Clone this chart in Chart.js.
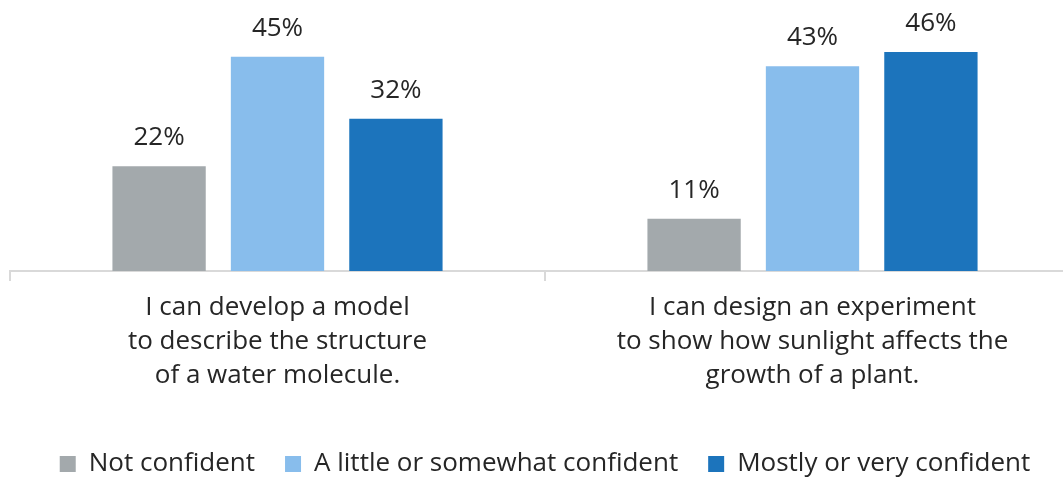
<!DOCTYPE html>
<html>
<head>
<meta charset="utf-8">
<script src="https://cdn.jsdelivr.net/npm/chart.js@4"></script>
<style>
  html, body { margin: 0; padding: 0; background: #fff; overflow: hidden; }
  #wrap { width: 1080px; height: 479px; }
</style>
</head>
<body>
<div id="wrap"><canvas id="c"></canvas></div>
<script>
const categories = [
    ['I can develop a model', 'to describe the structure', 'of a water molecule.'],
    ['I can design an experiment', 'to show how sunlight affects the', 'growth of a plant.']
];
const seriesNames = ['Not confident', 'A little or somewhat confident', 'Mostly or very confident'];
const notConfident = [22, 11];
const somewhatConfident = [45, 43];
const veryConfident = [32, 46];
const colors = ['#a3a9ac', '#88bdec', '#1c74bc'];

const FONT = '"Open Sans", sans-serif';
const TXT = '#262626';

// etiquetas de valor acima das barras
const valueLabels = {
    id: 'valueLabels',
    afterDatasetsDraw(chart) {
        const ctx = chart.ctx;
        ctx.save();
        ctx.font = '26px ' + FONT;
        ctx.fillStyle = TXT;
        ctx.textAlign = 'center';
        ctx.textBaseline = 'alphabetic';
        chart.data.datasets.forEach((ds, i) => {
            chart.getDatasetMeta(i).data.forEach((bar, j) => {
                ctx.fillText(ds.data[j] + '%', bar.x, bar.y - 21);
            });
        });
        ctx.restore();
    }
};

new Chart(document.getElementById('c'), {
    type: 'bar',
    data: {
        labels: categories,
        datasets: [
            { label: seriesNames[0], data: notConfident, backgroundColor: colors[0] },
            { label: seriesNames[1], data: somewhatConfident, backgroundColor: colors[1] },
            { label: seriesNames[2], data: veryConfident, backgroundColor: colors[2] }
        ]
    },
    options: {
        responsive: true,
        maintainAspectRatio: false,
        animation: false,
        datasets: { bar: { categoryPercentage: 0.664, barPercentage: 0.788 } },
        layout: { padding: { top: 33, left: 10, right: 0, bottom: -8 } },
        scales: {
            x: {
                grid: { drawOnChartArea: false, drawTicks: true, tickLength: 10, color: '#d9d9d9', lineWidth: 2 },
                border: { display: true, color: '#d9d9d9', width: 2 },
                ticks: { color: TXT, font: { family: FONT, size: 26, lineHeight: '34px' }, padding: 10, maxRotation: 0 },
                afterFit: s => { s.height += 18; }
            },
            y: { display: false, min: 0, max: 50 }
        },
        plugins: {
            legend: {
                position: 'bottom',
                labels: { color: TXT, font: { family: FONT, size: 26 }, boxWidth: 16, boxHeight: 16, padding: 30 }
            },
            tooltip: { enabled: false }
        }
    },
    plugins: [valueLabels]
});
</script>
</body>
</html>
